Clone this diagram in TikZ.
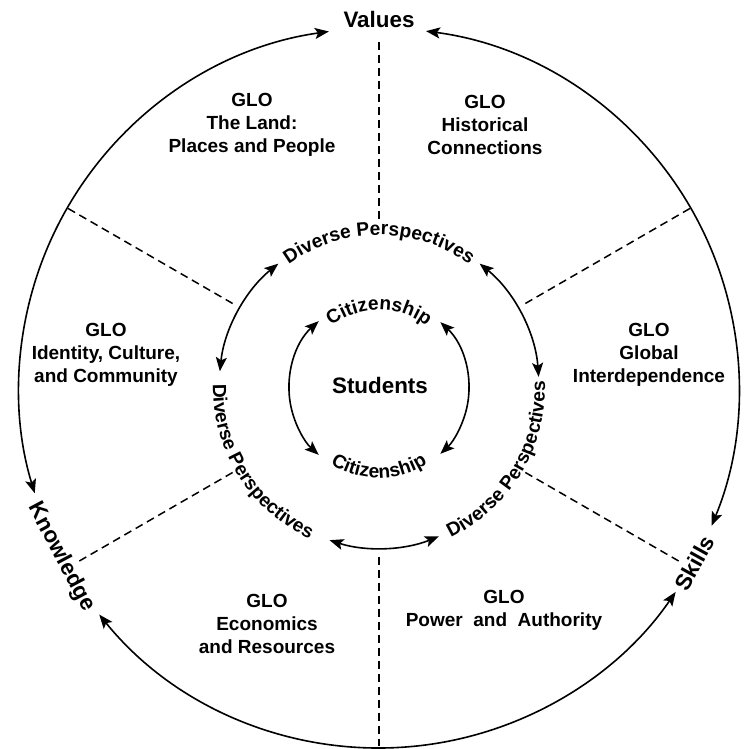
\documentclass[tikz,border=0pt]{standalone}
\usepackage{fontspec}
\setmainfont{Liberation Sans}
\usetikzlibrary{arrows.meta,decorations.text}
\newcommand{\ringfont}{\fontsize{9.6}{11}\selectfont\bfseries}
\tikzset{
  twoway/.style={line width=0.8pt,{Stealth[length=7pt,width=5.5pt,inset=1.5pt]}-{Stealth[length=7pt,width=5.5pt,inset=1.5pt]}},
  divider/.style={line width=0.75pt,dash pattern=on 4pt off 2.5pt},
  glo/.style={align=center,font=\fontsize{9.5}{11.5}\selectfont\bfseries},
  pole/.style={font=\fontsize{11.2}{13}\selectfont\bfseries},
}

\begin{document}
\begin{tikzpicture}[x=0.5pt,y=0.5pt]
\useasboundingbox (-379,-361) rectangle (372,388);

% outer ring
\node[pole,anchor=base] (values) at (90:360) {Values};
\node[pole,rotate=-62] (knowledge) at (208:360) {Knowledge};
\node[pole,rotate=61] (skills) at (-29:361) {Skills};

\coordinate (values-w) at (98:360);
\coordinate (values-e) at (82.5:360);
\coordinate (knowledge-s) at (219:360);
\draw[twoway] (values-w) arc[start angle=98,end angle=197,radius=360];
\draw[twoway] (values-e) arc[start angle=82.5,end angle=-22.5,radius=360];
\draw[twoway] (knowledge-s) arc[start angle=219,end angle=325.5,radius=360];

\foreach \a/\r in {90/350,30/361,150/361,210/348,270/358,330/346}
  \draw[divider] (\a:169) -- (\a:\r);

% sectors
\node[glo] (land) at (-127,263) {GLO\\The Land:\\Places and People};
\node[glo] (history) at (106,263) {GLO\\Historical\\Connections};
\node[glo] (identity) at (-273,33) {GLO\\Identity, Culture,\\and Community};
\node[glo] (global) at (270,33) {GLO\\Global\\Interdependence};
\node[glo] (economics) at (-112,-236) {GLO\\Economics\\and Resources};
\node[glo] (power) at (125,-222) {GLO\\Power\ \ and\ \ Authority};

% middle ring
\path[decorate,decoration={text along path,text={|\ringfont|Diverse Perspectives},text align=center}]
  (150:153) arc[start angle=150,end angle=30,radius=153];
\path[decorate,decoration={text along path,text={|\ringfont|Diverse Perspectives},text align=center}]
  (152:166) arc[start angle=152,end angle=272,radius=166];
\path[decorate,decoration={text along path,text={|\ringfont|Diverse Perspectives},text align=center}]
  (269:166) arc[start angle=269,end angle=389,radius=166];

\coordinate (dp-nw) at (129:160);
\coordinate (dp-ne) at (51:160);
\coordinate (dp-s) at (252:160);
\draw[twoway] (dp-nw) arc[start angle=129,end angle=174,radius=160];
\draw[twoway] (dp-ne) arc[start angle=51,end angle=4,radius=160];
\draw[twoway] (dp-s) arc[start angle=252,end angle=292,radius=160];

% inner ring
\path[decorate,decoration={text along path,text={|\ringfont|Citizenship},text align=center}]
  (160:78) arc[start angle=160,end angle=20,radius=78];
\path[decorate,decoration={text along path,text={|\ringfont|Citizenship},text align=center}]
  (200:90) arc[start angle=200,end angle=340,radius=90];

\coordinate (cz-w) at (132:90);
\coordinate (cz-e) at (47:90);
\draw[twoway] (cz-w) arc[start angle=132,end angle=228,radius=90];
\draw[twoway] (cz-e) arc[start angle=47,end angle=-47,radius=90];

\node[pole] (students) at (1,3) {Students};
\end{tikzpicture}
\end{document}
